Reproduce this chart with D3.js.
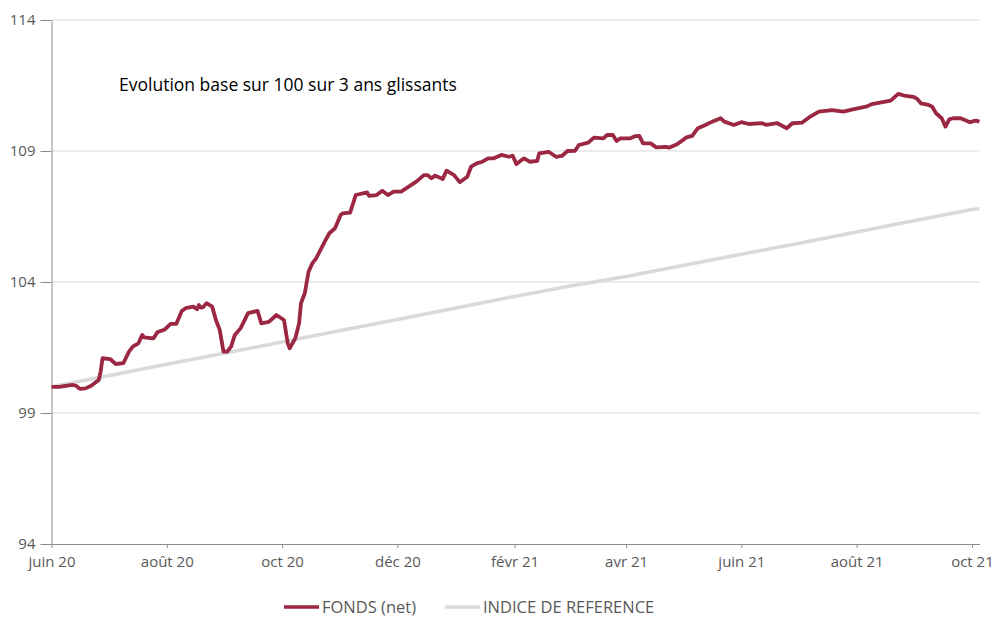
<!doctype html>
<html>
<head>
<meta charset="utf-8">
<script src="https://d3js.org/d3.v7.min.js"></script>
<style>
  body { margin: 0; background: #fff; }
  svg text { font-family: "Open Sans", sans-serif; }
</style>
</head>
<body>
<svg width="996" height="621" id="chart"></svg>
<script>
// fund (net), base 100 on 2020-06-01
var fundDates = ["2020-06-01","2020-06-05","2020-06-12","2020-06-14","2020-06-16","2020-06-19","2020-06-22","2020-06-26","2020-06-27","2020-06-28",
  "2020-07-02","2020-07-05","2020-07-09","2020-07-12","2020-07-14","2020-07-17","2020-07-19","2020-07-20","2020-07-25","2020-07-27","2020-07-31",
  "2020-08-03","2020-08-06","2020-08-09","2020-08-11","2020-08-15","2020-08-17","2020-08-18","2020-08-19","2020-08-20","2020-08-22","2020-08-25","2020-08-27","2020-08-29","2020-08-31",
  "2020-09-02","2020-09-04","2020-09-06","2020-09-09","2020-09-13","2020-09-18","2020-09-20","2020-09-24","2020-09-28",
  "2020-10-02","2020-10-04","2020-10-05","2020-10-08","2020-10-10","2020-10-11","2020-10-13","2020-10-15","2020-10-17","2020-10-19","2020-10-24","2020-10-26","2020-10-29",
  "2020-11-01","2020-11-02","2020-11-06","2020-11-09","2020-11-15","2020-11-16","2020-11-20","2020-11-23","2020-11-26","2020-11-29",
  "2020-12-03","2020-12-07","2020-12-11","2020-12-15","2020-12-17","2020-12-19","2020-12-21","2020-12-25","2020-12-27","2020-12-31",
  "2021-01-03","2021-01-07","2021-01-09","2021-01-12","2021-01-15","2021-01-18","2021-01-21","2021-01-25","2021-01-29","2021-01-31",
  "2021-02-02","2021-02-06","2021-02-09","2021-02-13","2021-02-14","2021-02-19","2021-02-23","2021-02-26",
  "2021-03-01","2021-03-05","2021-03-07","2021-03-12","2021-03-15","2021-03-20","2021-03-22","2021-03-25","2021-03-27","2021-03-29",
  "2021-04-03","2021-04-06","2021-04-08","2021-04-10","2021-04-14","2021-04-17","2021-04-22","2021-04-24","2021-04-28",
  "2021-05-03","2021-05-06","2021-05-09","2021-05-13","2021-05-16","2021-05-21","2021-05-23","2021-05-28",
  "2021-06-01","2021-06-05","2021-06-12","2021-06-14","2021-06-20","2021-06-25","2021-06-28",
  "2021-07-03","2021-07-07","2021-07-12","2021-07-19","2021-07-25","2021-07-30",
  "2021-08-06","2021-08-09","2021-08-19","2021-08-23","2021-08-27","2021-08-31",
  "2021-09-02","2021-09-04","2021-09-08","2021-09-10","2021-09-12","2021-09-15","2021-09-17","2021-09-19","2021-09-21","2021-09-25","2021-09-30",
  "2021-10-03","2021-10-05"];
var fundValues = [100.00,100.00,100.07,100.04,99.92,99.94,100.04,100.26,100.58,101.09,
  101.06,100.87,100.90,101.34,101.53,101.66,101.98,101.89,101.85,102.08,102.19,
  102.40,102.40,102.90,103.00,103.06,102.96,103.12,103.02,103.03,103.19,103.06,102.55,102.17,101.34,
  101.34,101.53,101.98,102.23,102.81,102.90,102.42,102.48,102.74,
  102.55,101.66,101.47,101.85,102.42,103.19,103.57,104.39,104.71,104.90,105.60,105.86,106.05,
  106.56,106.62,106.65,107.32,107.42,107.29,107.32,107.48,107.32,107.45,
  107.45,107.64,107.83,108.08,108.08,107.96,108.06,107.93,108.25,108.08,
  107.81,108.02,108.40,108.53,108.59,108.72,108.72,108.85,108.78,108.82,
  108.50,108.72,108.59,108.62,108.91,108.97,108.78,108.81,
  109.00,109.01,109.23,109.32,109.51,109.48,109.61,109.61,109.38,109.48,
  109.48,109.57,109.58,109.29,109.29,109.14,109.16,109.13,109.26,
  109.52,109.58,109.87,109.99,110.10,110.25,110.12,109.99,
  110.10,110.03,110.06,110.00,110.06,109.87,110.06,
  110.08,110.29,110.50,110.56,110.50,110.59,
  110.69,110.79,110.92,111.18,111.10,111.07,
  110.99,110.82,110.76,110.69,110.44,110.25,109.93,110.21,110.25,110.25,110.10,
  110.16,110.12];

// reference index
var indexDates = ["2020-06-01","2020-07-01","2020-08-01","2020-09-01","2020-10-01","2020-11-01","2020-12-01",
  "2021-01-01","2021-02-01","2021-03-01","2021-04-01","2021-05-01","2021-06-01","2021-07-01","2021-08-01",
  "2021-09-01","2021-10-01","2021-10-05"];
var indexValues = [100.00,100.42,100.86,101.29,101.71,102.15,102.57,103.01,103.45,103.83,104.21,104.63,105.06,105.47,105.91,106.35,106.77,106.80];

var yTicks = [94, 99, 104, 109, 114];
var xTickDates = ["2020-06-01","2020-08-01","2020-10-01","2020-12-01","2021-02-01","2021-04-01","2021-06-01","2021-08-01","2021-10-01"];
var xTickLabels = ["juin 20","août 20","oct 20","déc 20","févr 21","avr 21","juin 21","août 21","oct 21"];

var parse = d3.timeParse("%Y-%m-%d");
var fund = fundDates.map(function (d, i) { return { date: parse(d), value: fundValues[i] }; });
var index = indexDates.map(function (d, i) { return { date: parse(d), value: indexValues[i] }; });
var xTicks = xTickDates.map(parse);

var svg = d3.select("#chart");

var x = d3.scaleTime()
  .domain([parse("2020-06-01"), parse("2021-10-05")])
  .range([51.5, 979.5]);
var y = d3.scaleLinear().domain([94, 114]).range([544, 20]);

// gridlines
svg.append("g")
  .selectAll("line")
  .data(yTicks.slice(1))
  .enter()
  .append("line")
  .attr("x1", x.range()[0])
  .attr("x2", x.range()[1])
  .attr("y1", function (d) { return y(d); })
  .attr("y2", function (d) { return y(d); })
  .style("stroke", "#d9d9d9")
  .style("stroke-width", 1);

// y axis
var yAxis = svg.append("g")
  .attr("transform", "translate(" + x.range()[0] + ",0)")
  .call(d3.axisLeft(y).tickValues(yTicks).tickSize(11).tickSizeOuter(0).tickPadding(5));

// x axis
var xAxis = svg.append("g")
  .attr("transform", "translate(0," + y(94) + ")")
  .call(d3.axisBottom(x)
    .tickValues(xTicks)
    .tickSize(4)
    .tickSizeOuter(0)
    .tickPadding(8)
    .tickFormat(function (d, i) { return xTickLabels[i]; }));

[yAxis, xAxis].forEach(function (a) {
  a.selectAll("path, line").style("stroke", "#8c8c8c");
  a.selectAll("text").style("fill", "#595959").style("font-size", "15px")
    .style("font-family", "'Open Sans', sans-serif");
});

var line = d3.line()
  .x(function (d) { return x(d.date); })
  .y(function (d) { return y(d.value); });

svg.append("path")
  .datum(index)
  .attr("d", line)
  .style("fill", "none")
  .style("stroke", "#d9d9d9")
  .style("stroke-width", 3.5);

svg.append("path")
  .datum(fund)
  .attr("d", line)
  .style("fill", "none")
  .style("stroke", "#9b2743")
  .style("stroke-width", 3.8)
  .style("stroke-linejoin", "round");

// title
svg.append("text")
  .attr("x", 119)
  .attr("y", 91)
  .style("font-size", "17.5px")
  .style("fill", "#000")
  .text("Evolution base sur 100 sur 3 ans glissants");

// legend
var legend = [
  { label: "FONDS (net)", color: "#9b2743", x: 284 },
  { label: "INDICE DE REFERENCE", color: "#d9d9d9", x: 445 }
];
var lg = svg.append("g").selectAll("g").data(legend).enter().append("g");
lg.append("line")
  .attr("x1", function (d) { return d.x; })
  .attr("x2", function (d) { return d.x + 35; })
  .attr("y1", 607).attr("y2", 607)
  .style("stroke", function (d) { return d.color; })
  .style("stroke-width", 3.5);
lg.append("text")
  .attr("x", function (d) { return d.x + 38; })
  .attr("y", 613)
  .style("font-size", "16.5px")
  .style("fill", "#595959")
  .text(function (d) { return d.label; });
</script>
</body>
</html>
